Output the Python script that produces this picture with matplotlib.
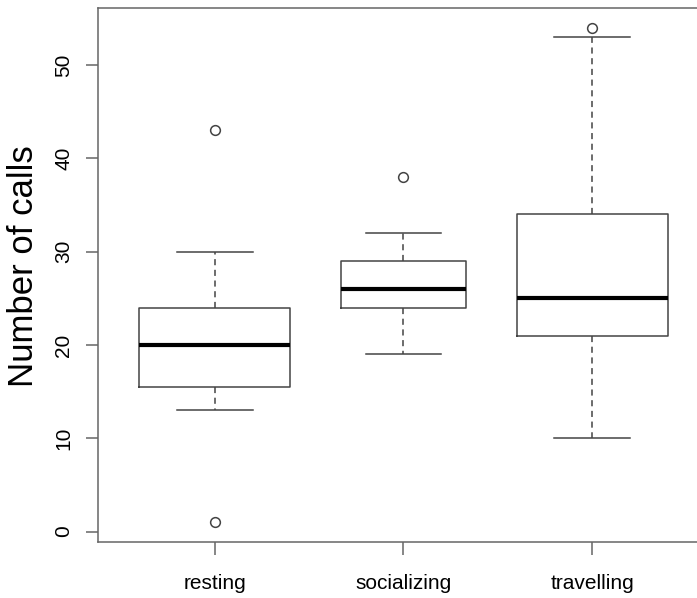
import matplotlib
matplotlib.use("Agg")
import matplotlib.pyplot as plt

plt.rcParams["font.family"] = ["Liberation Sans", "DejaVu Sans"]

# Five-number summaries per behaviour state
states = ["resting", "socializing", "travelling"]
whislo = [13, 19, 10]
q1 = [15.5, 24, 21]
med = [20, 26, 25]
q3 = [24, 29, 34]
whishi = [30, 32, 53]
fliers = [[43, 1], [38], [54]]
box_widths = [0.8, 0.665, 0.8]

stats = []
for i, name in enumerate(states):
    stats.append(dict(label=name, whislo=whislo[i], q1=q1[i], med=med[i],
                      q3=q3[i], whishi=whishi[i], fliers=fliers[i]))

fig = plt.figure(figsize=(6.97, 5.98), dpi=100)
ax = fig.add_axes([98 / 697, 56 / 598, 611 / 697, 534 / 598])

line_col = "#444444"
ax.bxp(stats, positions=[1, 2, 3], widths=box_widths, capwidths=0.4,
       boxprops=dict(color=line_col, linewidth=1.1),
       whiskerprops=dict(color=line_col, linewidth=1.1, linestyle=(0, (4, 3))),
       capprops=dict(color=line_col, linewidth=1.1),
       medianprops=dict(color="black", linewidth=3),
       flierprops=dict(marker="o", markersize=7, markerfacecolor="none",
                       markeredgecolor=line_col, markeredgewidth=1.1))

ax.set_xlim(0.38, 3.62)
ax.set_ylim(-1.12, 56.12)
ax.set_yticks([0, 10, 20, 30, 40, 50])
ax.set_xticks([1, 2, 3])
ax.set_xticklabels(states)

for s in ax.spines.values():
    s.set_color("#666666")
    s.set_linewidth(1.1)

ax.tick_params(direction="out", length=9, width=1.1, color="#666666",
               labelsize=15, pad=9)
ax.tick_params(axis="x", pad=14)
for lab in ax.get_yticklabels():
    lab.set_rotation(90)
    lab.set_va("center")

# y-axis title placed in figure coordinates
fig.text(24 / 697, 1 - 266 / 598, "Number of calls", fontsize=25,
         rotation=90, ha="center", va="center")

fig.savefig("out.png", dpi=100)
